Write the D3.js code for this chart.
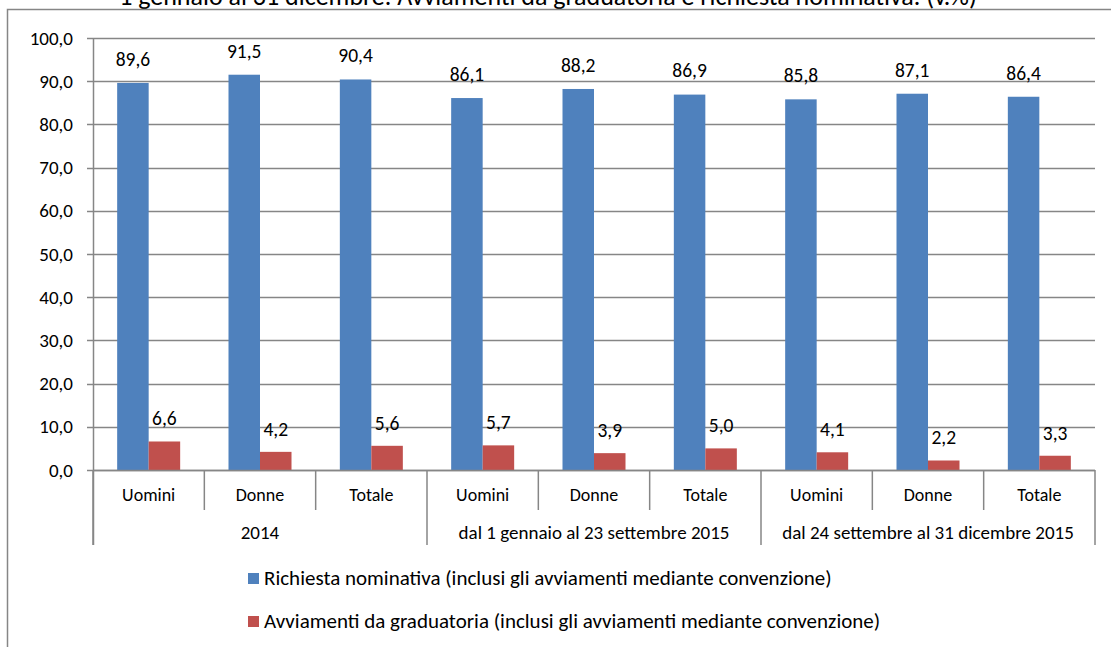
<!DOCTYPE html>
<html><head><meta charset="utf-8">
<script src="https://cdn.jsdelivr.net/npm/d3@7"></script>
<style>body{margin:0;background:#fff}svg{display:block}text{font-family:Carlito,Lato,"Open Sans",sans-serif;fill:#000}</style>
</head><body><svg id="c" width="1111" height="647"></svg>
<script>
const categories = ["Uomini","Donne","Totale","Uomini","Donne","Totale","Uomini","Donne","Totale"];
const groups = ["2014","dal 1 gennaio al 23 settembre 2015","dal 24 settembre al 31 dicembre 2015"];
const seriesNames = ["Richiesta nominativa (inclusi gli avviamenti mediante convenzione)","Avviamenti da graduatoria (inclusi gli avviamenti mediante convenzione)"];
const richiesta = [89.6,91.5,90.4,86.1,88.2,86.9,85.8,87.1,86.4];
const graduatoria = [6.6,4.2,5.6,5.7,3.9,5.0,4.1,2.2,3.3];
const yTicks = [0,10,20,30,40,50,60,70,80,90,100];
const colors = ["#4F81BD","#C0504D"];
const title = "1 gennaio al 31 dicembre. Avviamenti da graduatoria e richiesta nominativa. (v.%)";

const svg = d3.select("#c");
const fmt = v => d3.format(".1f")(v).replace(".", ",");
const L = 93, R = 1095, T = 38, B = 470;
const x = d3.scaleBand().domain(d3.range(9)).range([L,R]);
const y = d3.scaleLinear().domain([0,100]).range([B,T]);

// title (top of it falls outside the picture, as in the reference)
svg.append("text").attr("x",548).attr("y",5).attr("text-anchor","middle").style("font-size","26px").text(title);
// frame
svg.append("path").attr("d","M7.5,647 V9.5 H1111").attr("fill","none").attr("stroke","#868686").attr("stroke-width",1.5);

// grid
svg.selectAll(".g").data(yTicks).join("line")
  .attr("x1",L-6).attr("x2",R).attr("y1",d=>Math.round(y(d))+0.5).attr("y2",d=>Math.round(y(d))+0.5)
  .attr("stroke","#868686").attr("stroke-width",1.5);
svg.selectAll(".yl").data(yTicks).join("text")
  .attr("x",L-20).attr("y",d=>y(d)).attr("dy","0.35em").attr("text-anchor","end").style("font-size","19px").text(fmt);
svg.append("line").attr("x1",L+0.5).attr("x2",L+0.5).attr("y1",T).attr("y2",545).attr("stroke","#868686").attr("stroke-width",1.5);

const bw = 31.5;
const data = [richiesta, graduatoria];
data.forEach((arr,si)=>{
  svg.selectAll(".b"+si).data(arr).join("rect")
    .attr("x",(d,i)=>x(i)+x.bandwidth()/2 - bw + si*bw).attr("width",bw)
    .attr("y",d=>y(d)).attr("height",d=>B-y(d)).attr("fill",colors[si]);
  svg.selectAll(".l"+si).data(arr).join("text")
    .attr("x",(d,i)=>x(i)+x.bandwidth()/2 - bw/2 + si*bw).attr("y",d=>y(d)-(si?23:24)).attr("dy","0.35em")
    .attr("text-anchor","middle").style("font-size","19.5px").text(fmt);
});

// category axis
svg.append("line").attr("x1",L).attr("x2",R).attr("y1",B+0.5).attr("y2",B+0.5).attr("stroke","#868686").attr("stroke-width",1.5);
d3.range(10).forEach(k=>{
  const xx = k<9 ? x(k) : R;
  svg.append("line").attr("x1",xx).attr("x2",xx).attr("y1",B).attr("y2",k%3===0?545:510).attr("stroke","#868686").attr("stroke-width",1.5);
});
svg.selectAll(".cl").data(categories).join("text")
  .attr("x",(d,i)=>x(i)+x.bandwidth()/2).attr("y",495).attr("dy","0.35em").attr("text-anchor","middle").style("font-size","18px").text(d=>d);
svg.selectAll(".gl").data(groups).join("text")
  .attr("x",(d,i)=>(x(i*3)+ (i===2?R:x(i*3+3)))/2).attr("y",532).attr("dy","0.35em").attr("text-anchor","middle").style("font-size","19px").text(d=>d);

// legend
seriesNames.forEach((n,i)=>{
  const yy = 578 + i*43;
  svg.append("rect").attr("x",248).attr("y",yy-5).attr("width",11).attr("height",11).attr("fill",colors[i]);
  svg.append("text").attr("x",264).attr("y",yy).attr("dy","0.35em").style("font-size","21px").text(n);
});
</script></body></html>
